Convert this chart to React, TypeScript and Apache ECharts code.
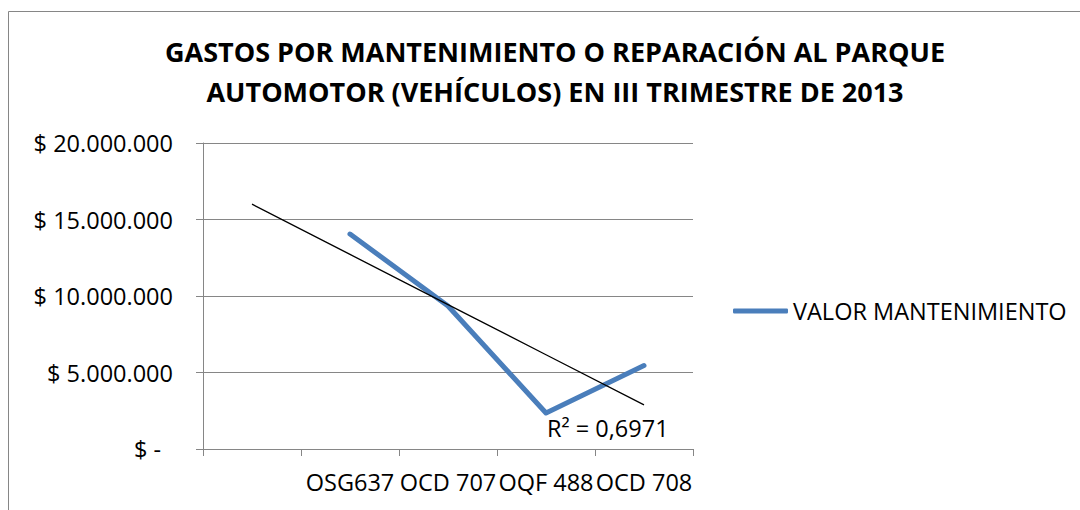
import React, { useEffect, useRef } from "react";
import * as echarts from "echarts";

const TITLE_LINES = [
  "GASTOS POR MANTENIMIENTO O REPARACIÓN AL PARQUE",
  "AUTOMOTOR (VEHÍCULOS) EN III TRIMESTRE DE 2013",
];
const categories = ["", "OSG637", "OCD 707", "OQF 488", "OCD 708"];
const seriesName = "VALOR MANTENIMIENTO";
const values: (number | null)[] = [null, 14050000, 9350000, 2350000, 5450000];
const rSquaredText = "R² = 0,6971";
const yMin = 0;
const yMax = 20000000;
const yInterval = 5000000;

function fmtMoney(v: number): string {
  if (v === 0) return "{z|$ -}";
  const s = Math.round(v).toString().replace(/\B(?=(\d{3})+(?!\d))/g, ".");
  return "$ " + s;
}

function linearTrend(vals: (number | null)[]): number[] {
  const pts: [number, number][] = [];
  vals.forEach((v, i) => {
    if (v !== null) pts.push([i, v]);
  });
  const n = pts.length;
  const mx = pts.reduce((a, p) => a + p[0], 0) / n;
  const my = pts.reduce((a, p) => a + p[1], 0) / n;
  let sxy = 0;
  let sxx = 0;
  pts.forEach(([x, y]) => {
    sxy += (x - mx) * (y - my);
    sxx += (x - mx) * (x - mx);
  });
  const b = sxy / sxx;
  const a = my - b * mx;
  return vals.map((_, i) => a + b * i);
}

const FONT = "'Open Sans', 'Noto Sans', sans-serif";
const GRAY = "#868686";
const FS = 23.5;

export default function App() {
  const ref = useRef<HTMLDivElement>(null);
  useEffect(() => {
    if (!ref.current) return;
    const chart = echarts.init(ref.current, null, { renderer: "svg" });
    const trend = linearTrend(values);
    chart.setOption({
      animation: false,
      backgroundColor: "#ffffff",
      textStyle: { fontFamily: FONT },
      title: {
        text: TITLE_LINES.join("\n"),
        left: 555,
        top: 31,
        padding: 0,
        textAlign: "center",
        textStyle: {
          fontFamily: FONT,
          fontSize: 27,
          fontWeight: "bold",
          color: "#000000",
          lineHeight: 40,
        },
      },
      graphic: [
        {
          type: "polyline",
          shape: { points: [[8.5, 520], [8.5, 11.5], [1090, 11.5]] },
          style: { stroke: GRAY, lineWidth: 1, fill: "none" },
          silent: true,
        },
      ],
      legend: {
        data: [seriesName],
        left: 733,
        top: 299,
        padding: 0,
        icon: "roundRect",
        itemWidth: 55,
        itemHeight: 5,
        itemGap: 0,
        textStyle: { fontFamily: FONT, fontSize: FS, color: "#000000", padding: [0, 0, 0, 0] },
      },
      grid: {
        left: 203,
        right: 387,
        top: 143,
        bottom: 61,
        containLabel: false,
        outerBoundsMode: "none",
      },
      xAxis: {
        type: "category",
        data: categories,
        boundaryGap: true,
        axisLine: { show: true, lineStyle: { color: GRAY, width: 1 } },
        axisTick: { show: true, interval: 0, length: 7, alignWithLabel: false, lineStyle: { color: GRAY } },
        axisLabel: { interval: 0, margin: 21, fontFamily: FONT, fontSize: FS, color: "#000000" },
        splitLine: { show: false },
      },
      yAxis: {
        type: "value",
        min: yMin,
        max: yMax,
        interval: yInterval,
        axisLine: { show: true, lineStyle: { color: GRAY, width: 1 } },
        axisTick: { show: true, length: 7, lineStyle: { color: GRAY } },
        splitLine: { show: true, lineStyle: { color: GRAY, width: 1 } },
        axisLabel: {
          margin: 30,
          fontFamily: FONT,
          fontSize: FS,
          color: "#000000",
          formatter: fmtMoney,
          rich: { z: { fontFamily: FONT, fontSize: FS, color: "#000000", padding: [0, 12, 0, 0] } },
        },
      },
      series: [
        {
          name: seriesName,
          type: "line",
          data: values,
          symbol: "none",
          connectNulls: false,
          lineStyle: { color: "#4a7ebb", width: 5, cap: "round", join: "round" },
          itemStyle: { color: "#4a7ebb" },
          z: 3,
        },
        {
          name: "trend",
          type: "line",
          data: trend,
          symbol: "none",
          lineStyle: { color: "#000000", width: 1.3 },
          itemStyle: { color: "#000000" },
          z: 4,
          endLabel: {
            show: true,
            formatter: rSquaredText,
            distance: 0,
            offset: [-97, 23],
            fontFamily: FONT,
            fontSize: FS,
            color: "#000000",
          },
        },
      ],
    });
    return () => chart.dispose();
  }, []);
  return (
    <div
      ref={ref}
      style={{ position: "fixed", left: 0, top: 0, width: 1080, height: 510 }}
    />
  );
}
